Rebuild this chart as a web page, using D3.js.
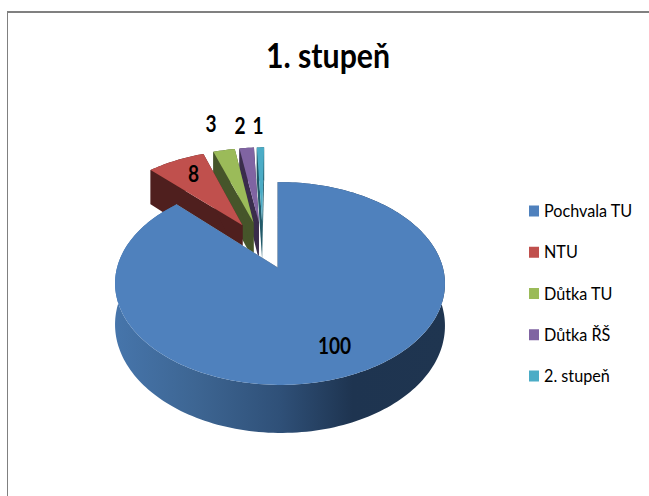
<!DOCTYPE html>
<html>
<head>
<meta charset="utf-8">
<script src="https://cdn.jsdelivr.net/npm/d3@7"></script>
<style>
    html, body { margin: 0; padding: 0; background: #fff; }
    text { font-family: Lato, "Open Sans", sans-serif; fill: #000; }
</style>
</head>
<body>
<div id="chart"></div>
<script>
const chartTitle = "1. stupeň";
const categories = ["Pochvala TU", "NTU", "Důtka TU", "Důtka ŘŠ", "2. stupeň"];
const values = [100, 8, 3, 2, 1];
const topColors = ["#4f81bd", "#c0504d", "#9bbb59", "#8064a2", "#4bacc6"];
const wallColors = ["#2b466b", "#4f1f1e", "#46552a", "#3a2d4c", "#225a69"];

const width = 649, height = 496;

// camera perspective of the pie, fitted against the blue slice
const perspective = 0.153, perspectiveX = 0.012, explode = 0.26, depth = 40.7;
const cx = 278, cy = 268;

const xScale = d3.scaleLinear().domain([-1, 1]).range([cx - 163, cx + 163]);
const yScale = d3.scaleLinear().domain([-1, 1]).range([cy - 99, cy + 99]);

const svg = d3.select("#chart").append("svg")
    .attr("width", width)
    .attr("height", height)
    .style("display", "block");

// chart frame, only the top and left edge are inside the picture
svg.append("line").attr("x1", 7).attr("x2", width).attr("y1", 12).attr("y2", 12)
    .attr("stroke", "#808080").attr("stroke-width", 2);
svg.append("line").attr("x1", 7.5).attr("x2", 7.5).attr("y1", 12).attr("y2", height)
    .attr("stroke", "#808080");

const grad = svg.append("defs").append("linearGradient")
    .attr("id", "blue-wall")
    .attr("gradientUnits", "userSpaceOnUse")
    .attr("x1", 115).attr("x2", 445).attr("y1", 0).attr("y2", 0);
grad.selectAll("stop")
    .data([[0, "#4675ab"], [0.25, "#3d6592"], [0.5, "#2f5078"], [0.72, "#1e3450"], [1, "#1f3550"]])
    .enter().append("stop")
    .attr("offset", d => d[0])
    .attr("stop-color", d => d[1]);

const project = (u, v, z) => {
    const w = 1 - perspective * v - perspectiveX * u;
    return [xScale(u / w), yScale(v / w) + z * depth / w];
};

const arcs = d3.pie().sort(null).startAngle(0).endAngle(2 * Math.PI)(values);

// the blue apex is the projection centre, the shared pie origin sits behind it
const blueMid = (arcs[0].startAngle + arcs[0].endAngle) / 2;
const originU = -explode * Math.sin(blueMid);
const originV = explode * Math.cos(blueMid);

const line = d3.line();

const slices = arcs.map((a, i) => {
    const mid = (a.startAngle + a.endAngle) / 2;
    const u0 = originU + explode * Math.sin(mid);
    const v0 = originV - explode * Math.cos(mid);
    const steps = Math.max(3, Math.ceil((a.endAngle - a.startAngle) * 40));
    const rim = d3.range(steps + 1).map(s => {
        const t = a.startAngle + (a.endAngle - a.startAngle) * s / steps;
        return [u0 + Math.sin(t), v0 - Math.cos(t)];
    });
    return { i, u0, v0, rim };
});

const at = (p, z) => project(p[0], p[1], z);

// back to front: small slices first, the big blue one on top of everything
slices.slice().reverse().forEach(s => {
    const g = svg.append("g");
    const apex = [s.u0, s.v0];
    const first = s.rim[0];
    const last = s.rim[s.rim.length - 1];

    // outer wall
    g.append("path")
        .attr("d", line(s.rim.map(p => at(p, 0)).concat(s.rim.slice().reverse().map(p => at(p, 1)))) + "Z")
        .attr("fill", s.i === 0 ? "url(#blue-wall)" : wallColors[s.i]);
    // radial walls
    [first, last].forEach(p => {
        g.append("path")
            .attr("d", line([at(apex, 0), at(p, 0), at(p, 1), at(apex, 1)]) + "Z")
            .attr("fill", wallColors[s.i])
            .attr("stroke", s.i === 0 ? "#6f8aa8" : "none");
    });
    // top face
    g.append("path")
        .attr("d", line([at(apex, 0)].concat(s.rim.map(p => at(p, 0)))) + "Z")
        .attr("fill", topColors[s.i]);
});

svg.append("text")
    .attr("transform", "translate(328,68) scale(0.89,1)")
    .attr("text-anchor", "middle")
    .attr("font-size", 34)
    .attr("font-weight", 700)
    .text(chartTitle);

// value labels sit by hand like in the original chart
const labelPos = [[334.5, 354], [193.5, 182], [211, 132], [240, 134], [258, 134]];
svg.selectAll(".value").data(values).enter().append("text")
    .attr("class", "value")
    .attr("transform", (d, i) => "translate(" + labelPos[i] + ") scale(0.83,1)")
    .attr("text-anchor", "middle")
    .attr("font-size", 23)
    .attr("font-weight", 700)
    .text(d => d);

const legendY = d3.scalePoint().domain(categories).range([211, 376]);
const legend = svg.selectAll(".legend").data(categories).enter().append("g")
    .attr("class", "legend")
    .attr("transform", d => "translate(529," + legendY(d) + ")");
legend.append("rect")
    .attr("x", 0).attr("y", -5.5)
    .attr("width", 10).attr("height", 11)
    .attr("fill", (d, i) => topColors[i]);
legend.append("text")
    .attr("transform", "translate(15,6) scale(0.9,1)")
    .attr("font-size", 18)
    .text(d => d);
</script>
</body>
</html>
